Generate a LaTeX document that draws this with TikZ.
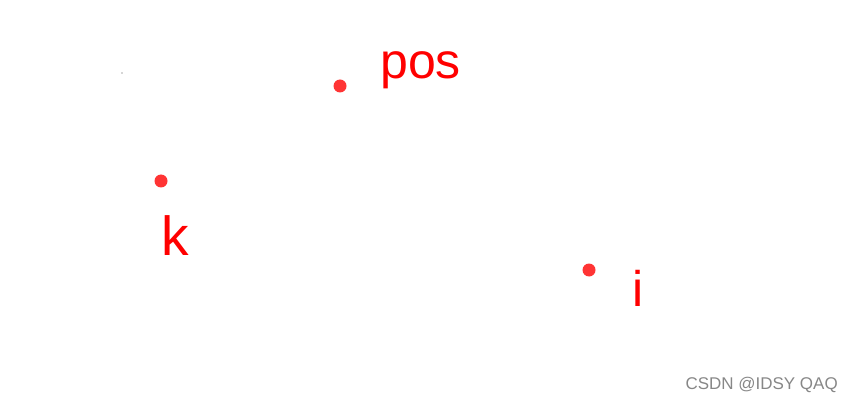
\documentclass[tikz,border=0pt]{standalone}
\usepackage{fontspec}
\setmainfont{Liberation Sans}
\definecolor{dotred}{RGB}{255,52,52}
\definecolor{inkred}{RGB}{255,0,0}
\definecolor{markgray}{RGB}{135,135,135}
\tikzset{
  pt/.style={circle, fill=dotred, inner sep=0pt, minimum size=13\unitpx},
  lbl/.style={text=inkred, inner sep=0pt},
  wmark/.style={text=markgray, inner sep=0pt, font=\fontsize{14.5}{16}\selectfont}
}
\newlength{\unitpx}
\setlength{\unitpx}{0.03cm}
\begin{document}
\begin{tikzpicture}[x=0.03cm, y=-0.03cm]
      \useasboundingbox (0,0) rectangle (853,404);

      \begin{scope}[every node/.style={pt}]
        \node (pos) at (340,86)  {};
        \node (k)   at (161,181) {};
        \node (i)   at (589,270) {};
      \end{scope}

      \begin{scope}[every node/.style={lbl}]
        \node[anchor=base west, font=\fontsize{42.7}{44}\selectfont] (poslbl) at (380,79)  {pos};
        \node[anchor=base west, font=\fontsize{47}{48}\selectfont]   (klbl)   at (161,256) {k};
        \node[anchor=base, font=\fontsize{42.7}{44}\selectfont]      (ilbl)   at (638,306) {i};
      \end{scope}

      % stray speck
      \fill[black!70] (122,73) circle (0.6);

      \node[wmark, anchor=base east] (mark) at (838,389) {CSDN @IDSY QAQ};

    \end{tikzpicture}
\end{document}
